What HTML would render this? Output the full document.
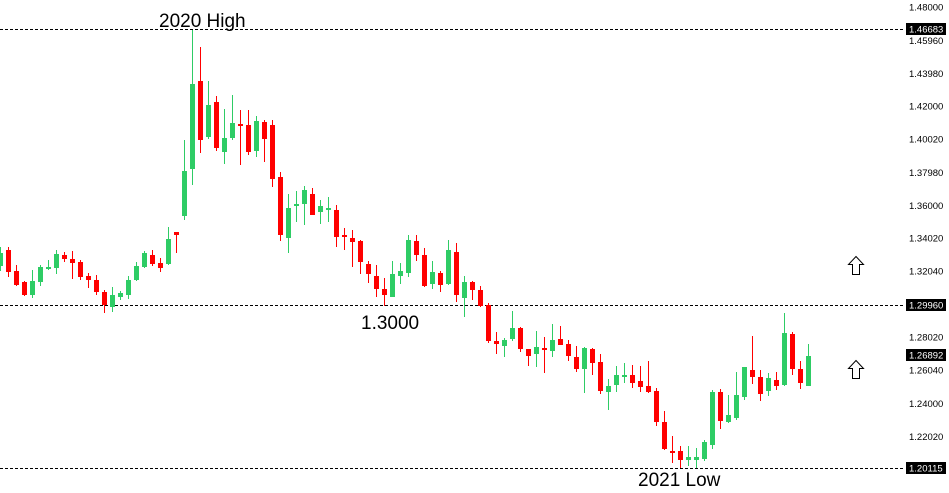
<!DOCTYPE html>
<html><head><meta charset="utf-8"><style>
html,body{margin:0;padding:0;background:#fff;}
svg{display:block;}
.ax{font-family:"Liberation Sans",sans-serif;font-size:9.5px;fill:#000;}
.bx{font-family:"Liberation Sans",sans-serif;font-size:9.5px;fill:#fff;}
.big{font-family:"Liberation Sans",sans-serif;font-size:19px;fill:#000;}
</style></head><body>
<svg width="949" height="493" viewBox="0 0 949 493" xmlns="http://www.w3.org/2000/svg" shape-rendering="crispEdges">
<rect width="949" height="493" fill="#fff"/>
<g stroke="#000" stroke-width="1" stroke-dasharray="3 2" fill="none">
<line x1="0" y1="29.5" x2="905" y2="29.5"/>
<line x1="0" y1="305.5" x2="905" y2="305.5"/>
<line x1="0" y1="468.5" x2="905" y2="468.5"/>
</g>
<path fill="#ff0000" d="
M8 247h1v30h-1z M6 250h5v22h-5z
M16 265h1v21h-1z M14 271h5v14h-5z
M24 281h1v15h-1z M22 282h5v13h-5z
M64 252h1v10h-1z M62 255h5v4h-5z
M72 251h1v28h-1z M70 259h5v4h-5z
M80 260h1v20h-1z M78 262h5v15h-5z
M88 273h1v15h-1z M86 276h5v4h-5z
M96 275h1v20h-1z M94 280h5v12h-5z
M104 290h1v23h-1z M102 292h5v13h-5z
M152 250h1v16h-1z M150 255h5v9h-5z
M160 258h1v14h-1z M158 263h5v5h-5z
M176 232h1v21h-1z M174 232h5v3h-5z
M200 47h1v106h-1z M198 81h5v59h-5z
M216 96h1v55h-1z M214 102h5v46h-5z
M240 110h1v55h-1z M238 124h5v2h-5z
M248 110h1v45h-1z M246 125h5v27h-5z
M264 120h1v42h-1z M262 122h5v17h-5z
M272 120h1v67h-1z M270 125h5v54h-5z
M280 172h1v69h-1z M278 177h5v58h-5z
M312 188h1v27h-1z M310 194h5v21h-5z
M336 205h1v42h-1z M334 210h5v27h-5z
M344 228h1v22h-1z M342 235h5v2h-5z
M352 230h1v37h-1z M350 238h5v4h-5z
M360 240h1v34h-1z M358 241h5v21h-5z
M368 261h1v22h-1z M366 264h5v10h-5z
M376 265h1v32h-1z M374 276h5v13h-5z
M384 278h1v28h-1z M382 289h5v6h-5z
M416 235h1v26h-1z M414 241h5v14h-5z
M424 248h1v39h-1z M422 255h5v31h-5z
M440 271h1v21h-1z M438 273h5v12h-5z
M456 243h1v59h-1z M454 252h5v43h-5z
M472 281h1v19h-1z M470 282h5v8h-5z
M480 286h1v21h-1z M478 290h5v16h-5z
M488 303h1v40h-1z M486 305h5v36h-5z
M496 332h1v22h-1z M494 341h5v3h-5z
M520 327h1v25h-1z M518 328h5v21h-5z
M528 349h1v17h-1z M526 349h5v7h-5z
M544 337h1v36h-1z M542 348h5v2h-5z
M560 326h1v19h-1z M558 339h5v6h-5z
M568 340h1v21h-1z M566 344h5v12h-5z
M576 346h1v26h-1z M574 357h5v12h-5z
M592 348h1v27h-1z M590 349h5v14h-5z
M600 354h1v40h-1z M598 362h5v29h-5z
M632 365h1v23h-1z M630 375h5v8h-5z
M640 366h1v26h-1z M638 381h5v6h-5z
M648 361h1v32h-1z M646 386h5v6h-5z
M656 388h1v38h-1z M654 391h5v31h-5z
M664 411h1v39h-1z M662 422h5v27h-5z
M672 436h1v27h-1z M670 451h5v2h-5z
M680 446h1v22h-1z M678 451h5v9h-5z
M720 389h1v40h-1z M718 392h5v29h-5z
M752 336h1v48h-1z M750 370h5v7h-5z
M760 370h1v31h-1z M758 377h5v17h-5z
M776 372h1v18h-1z M774 380h5v6h-5z
M792 332h1v43h-1z M790 334h5v35h-5z
M800 361h1v28h-1z M798 369h5v14h-5z"/>
<path fill="#2ecc65" d="
M0 247h1v24h-1z M0 253h3v13h-3z
M32 270h1v28h-1z M30 281h5v14h-5z
M40 265h1v21h-1z M38 267h5v15h-5z
M48 260h1v10h-1z M46 267h5v2h-5z
M56 250h1v24h-1z M54 254h5v14h-5z
M112 287h1v25h-1z M110 295h5v12h-5z
M120 291h1v9h-1z M118 293h5v4h-5z
M128 276h1v23h-1z M126 280h5v15h-5z
M136 262h1v19h-1z M134 266h5v14h-5z
M144 251h1v17h-1z M142 253h5v14h-5z
M168 227h1v38h-1z M166 239h5v25h-5z
M184 140h1v80h-1z M182 171h5v45h-5z
M192 30h1v155h-1z M190 84h5v85h-5z
M208 81h1v58h-1z M206 105h5v32h-5z
M224 109h1v55h-1z M222 138h5v14h-5z
M232 95h1v45h-1z M230 123h5v15h-5z
M256 116h1v41h-1z M254 121h5v30h-5z
M288 194h1v59h-1z M286 208h5v30h-5z
M296 191h1v31h-1z M294 204h5v2h-5z
M304 186h1v39h-1z M302 190h5v14h-5z
M320 200h1v24h-1z M318 206h5v6h-5z
M328 197h1v25h-1z M326 208h5v2h-5z
M392 261h1v36h-1z M390 274h5v23h-5z
M400 263h1v21h-1z M398 271h5v5h-5z
M408 235h1v42h-1z M406 240h5v33h-5z
M432 261h1v28h-1z M430 272h5v12h-5z
M448 240h1v45h-1z M446 250h5v34h-5z
M464 276h1v41h-1z M462 282h5v16h-5z
M504 338h1v19h-1z M502 340h5v6h-5z
M512 311h1v30h-1z M510 328h5v11h-5z
M536 331h1v36h-1z M534 347h5v7h-5z
M552 324h1v33h-1z M550 340h5v11h-5z
M584 347h1v46h-1z M582 348h5v21h-5z
M608 379h1v31h-1z M606 386h5v6h-5z
M616 366h1v26h-1z M614 375h5v10h-5z
M624 363h1v20h-1z M622 375h5v2h-5z
M688 446h1v20h-1z M686 457h5v3h-5z
M696 448h1v20h-1z M694 457h5v3h-5z
M704 440h1v21h-1z M702 442h5v17h-5z
M712 390h1v59h-1z M710 392h5v53h-5z
M728 395h1v28h-1z M726 415h5v7h-5z
M736 372h1v48h-1z M734 395h5v23h-5z
M744 367h1v33h-1z M742 367h5v30h-5z
M768 373h1v23h-1z M766 378h5v13h-5z
M784 313h1v73h-1z M782 333h5v52h-5z
M808 344h1v42h-1z M806 356h5v30h-5z"/>
<g fill="#fff" stroke="#000" stroke-width="1" shape-rendering="auto">
<polygon points="856,256.5 863.5,264.5 859.5,264.5 859.5,274.5 852.5,274.5 852.5,264.5 848.5,264.5"/>
<polygon points="856,360.5 863.5,368.5 859.5,368.5 859.5,378.5 852.5,378.5 852.5,368.5 848.5,368.5"/>
</g>
<g shape-rendering="auto">
<text class="big" x="159" y="27">2020 High</text>
<text class="big" x="361" y="329">1.3000</text>
<text class="big" x="638" y="486">2021 Low</text>
</g>
<g class="ax" shape-rendering="auto">
<text x="909" y="10.5">1.48000</text>
<text x="909" y="44">1.45960</text>
<text x="909" y="77">1.43980</text>
<text x="909" y="109.5">1.42000</text>
<text x="909" y="142.5">1.40020</text>
<text x="909" y="176">1.37980</text>
<text x="909" y="209">1.36000</text>
<text x="909" y="241.5">1.34020</text>
<text x="909" y="274.5">1.32040</text>
<text x="909" y="340.5">1.28020</text>
<text x="909" y="373.5">1.26040</text>
<text x="909" y="407">1.24000</text>
<text x="909" y="440">1.22020</text>
</g>
<g fill="#000">
<rect x="906" y="23" width="40" height="12"/>
<rect x="906" y="299" width="40" height="12"/>
<rect x="906" y="349" width="40" height="12"/>
<rect x="906" y="462" width="40" height="12"/>
</g>
<g class="bx" shape-rendering="auto">
<text x="909" y="32.5">1.46683</text>
<text x="909" y="308.5">1.29960</text>
<text x="909" y="358.5">1.26892</text>
<text x="909" y="471.5">1.20115</text>
</g>
</svg>
</body></html>
